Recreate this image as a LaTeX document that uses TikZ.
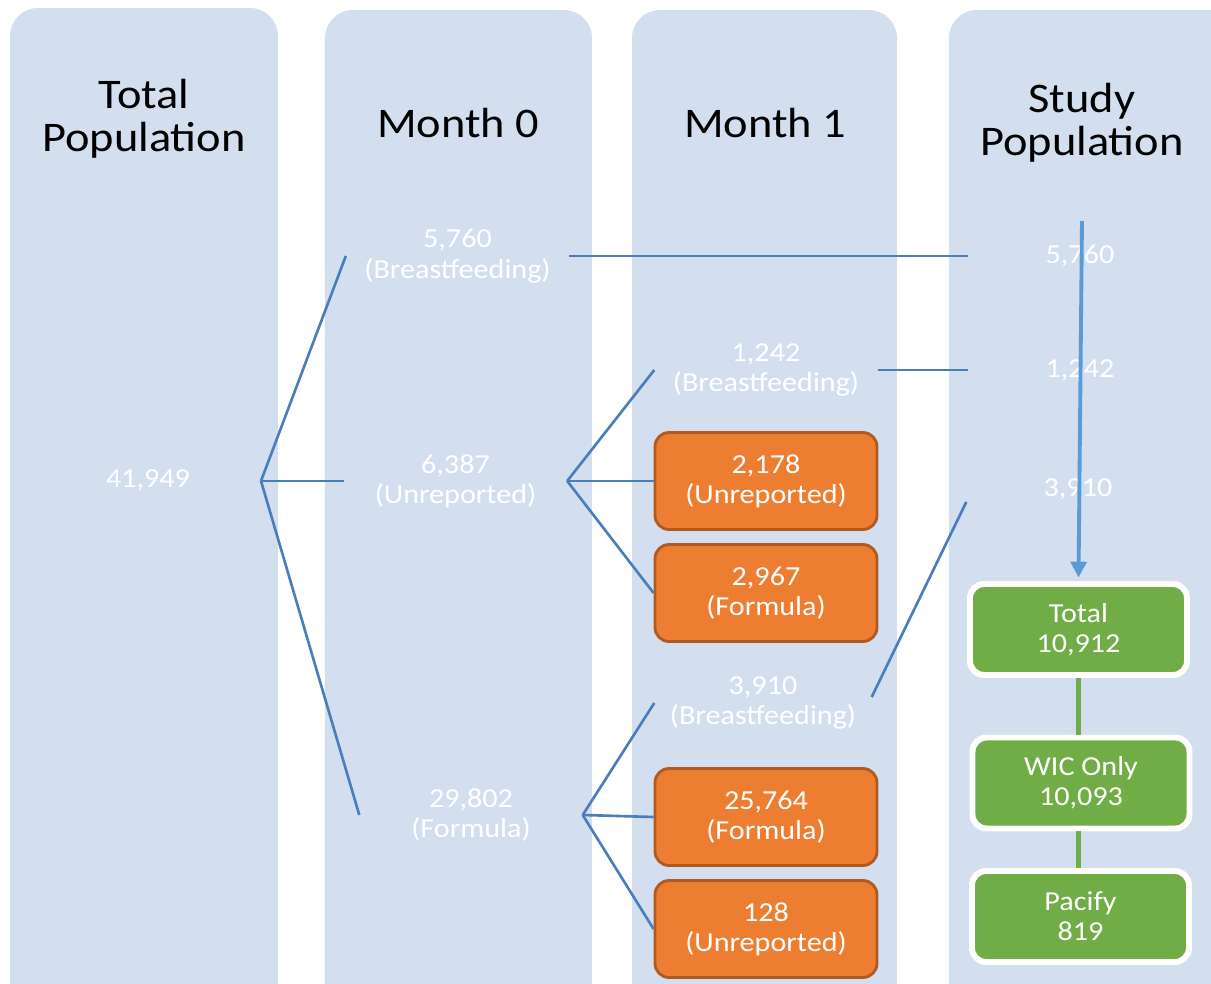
\documentclass[tikz,border=0pt]{standalone}
\usepackage{fontspec}
\setmainfont{Carlito}[FakeStretch=1.1]
\usetikzlibrary{arrows.meta}
\definecolor{colbg}{HTML}{D3DEEF}
\definecolor{linkblue}{HTML}{4A7EBB}
\definecolor{arrblue}{HTML}{5B9BD5}
\definecolor{orangefill}{HTML}{ED7D31}
\definecolor{orangedark}{HTML}{AE5A21}
\definecolor{greenfill}{HTML}{70AD47}

\begin{document}
\begin{tikzpicture}[
	lbl/.style={text=white, align=center, font=\fontsize{7.8}{8.6}\selectfont, minimum width=2.22cm, inner sep=0pt},
	head/.style={align=center, font=\fontsize{12}{12.2}\selectfont},
	obox/.style={lbl, draw=orangedark, fill=orangefill, line width=0.8pt, rounded corners=4pt, minimum height=0.97cm},
	gbox/.style={lbl, draw=white, fill=greenfill, line width=1.7pt, rounded corners=4pt, minimum width=2.17cm, minimum height=0.91cm},
	link/.style={draw=linkblue, line width=0.75pt}
	]
	\useasboundingbox (0,0) rectangle (12.11,-9.84);
	\clip (0,0) rectangle (12.11,-9.84);

	% columns
	\fill[colbg] (0.10,-9.90) [rounded corners=0.28cm] -- (0.10,-0.08) -- (2.78,-0.08) [sharp corners] -- (2.78,-9.90) -- cycle;
	\fill[colbg] (3.25,-9.90) [rounded corners=0.28cm] -- (3.25,-0.10) -- (5.92,-0.10) [sharp corners] -- (5.92,-9.90) -- cycle;
	\fill[colbg] (6.32,-9.90) [rounded corners=0.28cm] -- (6.32,-0.10) -- (8.97,-0.10) [sharp corners] -- (8.97,-9.90) -- cycle;
	\fill[colbg] (9.49,-9.90) [rounded corners=0.28cm] -- (9.49,-0.10) -- (12.40,-0.10) [sharp corners] -- (12.40,-9.90) -- cycle;

	\node[head] (hTotal) at (1.44,-1.19) {Total\\Population};
	\node[head] (hMonth0) at (4.58,-1.23) {Month 0};
	\node[head] (hMonth1) at (7.65,-1.23) {Month 1};
	\node[head] (hStudy) at (10.82,-1.23) {Study\\Population};

	% total
	\node[lbl, minimum width=0pt] (total) at (1.48,-4.80) {41,949};
	\coordinate (root) at (2.61,-4.81);

	% month 0
	\node[lbl] (mzBreast) at (4.575,-2.56) {5,760\\(Breastfeeding)};
	\node[lbl] (mzUnrep) at (4.555,-4.81) {6,387\\(Unreported)};
	\node[lbl] (mzForm) at (4.71,-8.15) {29,802\\(Formula)};

	% month 1
	\node[lbl] (moBreastA) at (7.66,-3.70) {1,242\\(Breastfeeding)};
	\node[obox] (moUnrepA) at (7.66,-4.81) {2,178\\(Unreported)};
	\node[obox] (moFormA) at (7.66,-5.93) {2,967\\(Formula)};
	\node[lbl, minimum width=2.16cm] (moBreastB) at (7.63,-7.03) {3,910\\(Breastfeeding)};
	\node[obox] (moFormB) at (7.66,-8.17) {25,764\\(Formula)};
	\node[obox] (moUnrepB) at (7.66,-9.29) {128\\(Unreported)};

	% study population
	\node[lbl] (stA) at (10.80,-2.56) {5,760};
	\node[lbl] (stB) at (10.80,-3.70) {1,242};
	\node[lbl] (stC) at (10.78,-4.89) {3,910};
	\node[gbox] (gTotal) at (10.785,-6.295) {Total\\10,912};
	\node[gbox] (gWic) at (10.81,-7.83) {WIC Only\\10,093};
	\node[gbox] (gPacify) at (10.805,-9.165) {Pacify\\819};
	\coordinate (arrTop) at (10.82,-2.21);

	\draw[link] (root) -- (mzBreast.west);
	\draw[link] (root) -- (mzUnrep.west);
	\draw[link] (root) -- (mzForm.west);
	\draw[link] (mzBreast.east) -- (stA.west);
	\draw[link] (mzUnrep.east) -- (moBreastA.west);
	\draw[link] (mzUnrep.east) -- (moUnrepA.west);
	\draw[link] (mzUnrep.east) -- (moFormA.west);
	\draw[link] (mzForm.east) -- (moBreastB.west);
	\draw[link] (mzForm.east) -- (moFormB.west);
	\draw[link] (mzForm.east) -- (moUnrepB.west);
	\draw[link] (moBreastA.east) -- (stB.west);
	\draw[link] ([yshift=0.06cm]moBreastB.east) -- ([yshift=-0.13cm]stC.west);

	\draw[greenfill, line width=1.7pt] (gTotal.south) -- (gTotal.south |- gWic.north);
	\draw[greenfill, line width=1.7pt] (gTotal.south |- gWic.south) -- (gTotal.south |- gPacify.north);
	\draw[arrblue, line width=1.1pt, -{Triangle[length=4.5pt,width=4.5pt]}, shorten >=1pt] (arrTop) -- (gTotal.north);
\end{tikzpicture}
\end{document}
